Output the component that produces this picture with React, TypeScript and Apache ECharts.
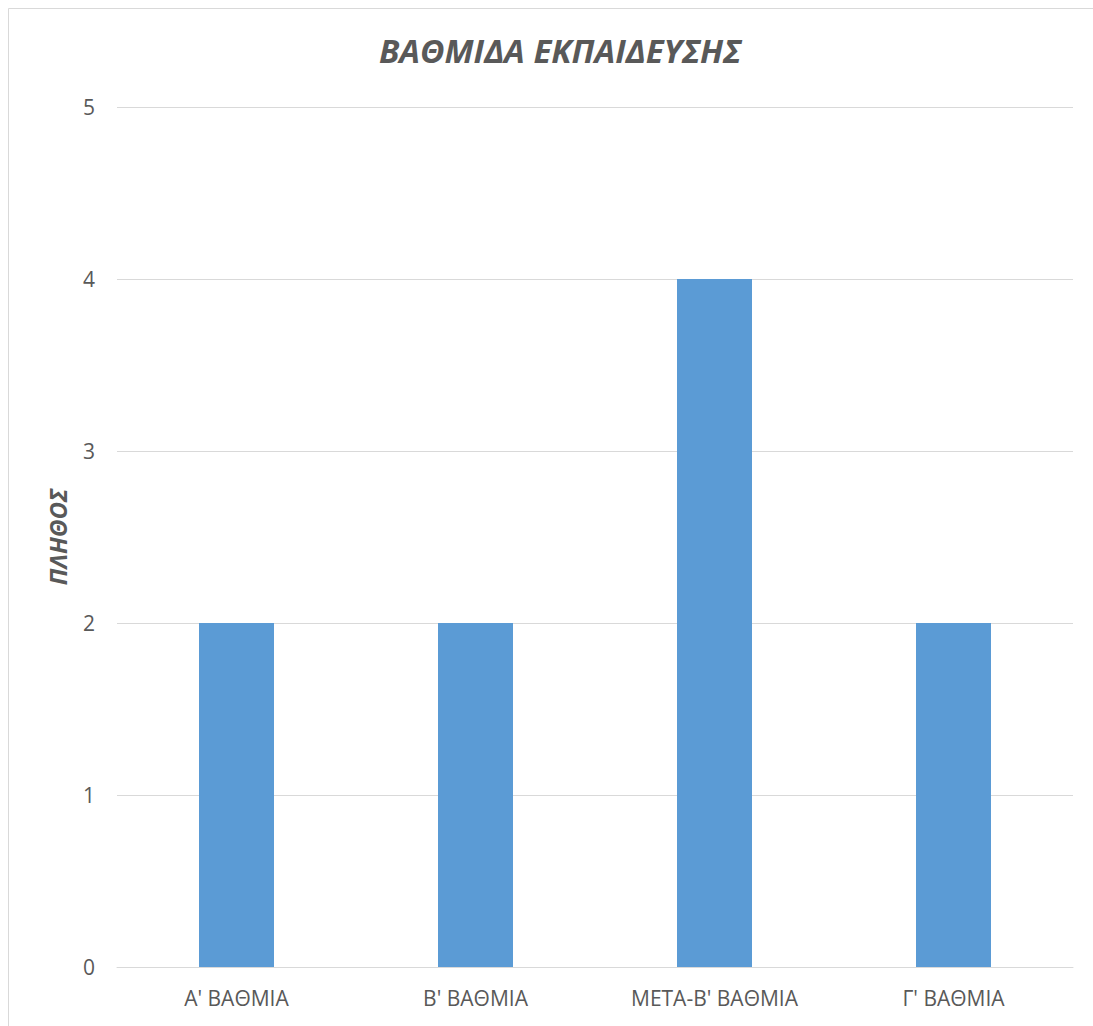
import React, { useEffect, useRef } from "react";
import * as echarts from "echarts";

const title = "ΒΑΘΜΙΔΑ ΕΚΠΑΙΔΕΥΣΗΣ";
const yAxisName = "ΠΛΗΘΟΣ";
const categories = ["Α' ΒΑΘΜΙΑ", "Β' ΒΑΘΜΙΑ", "ΜΕΤΑ-Β' ΒΑΘΜΙΑ", "Γ' ΒΑΘΜΙΑ"];
const values = [2, 2, 4, 2];

export default function App() {
  const ref = useRef<HTMLDivElement>(null);
  useEffect(() => {
    document.body.style.margin = "0";
    document.body.style.overflow = "hidden";
    if (!ref.current) return;
    const chart = echarts.init(ref.current, undefined, { renderer: "svg" });
    const font = "'Open Sans', 'DejaVu Sans', sans-serif";
    chart.setOption({
      animation: false,
      backgroundColor: "#ffffff",
      title: {
        text: title,
        left: 555,
        top: 29,
        textAlign: "center",
        textStyle: {
          fontFamily: font,
          fontSize: 33,
          fontWeight: "bold",
          fontStyle: "italic",
          color: "#595959",
        },
      },
      graphic: [
        {
          type: "line",
          shape: { x1: 8.5, y1: 8.5, x2: 1093, y2: 8.5 },
          style: { stroke: "#d9d9d9", lineWidth: 1 },
          silent: true,
        },
        {
          type: "line",
          shape: { x1: 8.5, y1: 8.5, x2: 8.5, y2: 1026 },
          style: { stroke: "#d9d9d9", lineWidth: 1 },
          silent: true,
        },
      ],
      grid: { left: 117, top: 107, width: 956, height: 860, containLabel: false },
      xAxis: {
        type: "category",
        data: categories,
        axisLine: { show: true, lineStyle: { color: "#d9d9d9", width: 1 } },
        axisTick: { show: false },
        axisLabel: {
          color: "#595959",
          fontFamily: font,
          fontSize: 21,
          margin: 20,
        },
      },
      yAxis: {
        type: "value",
        min: 0,
        max: 5,
        interval: 1,
        name: yAxisName,
        nameLocation: "middle",
        nameGap: 48,
        nameTextStyle: {
          fontFamily: font,
          fontSize: 24,
          fontWeight: "bold",
          fontStyle: "italic",
          color: "#595959",
        },
        axisLine: { show: false },
        axisTick: { show: false },
        splitLine: { lineStyle: { color: "#d9d9d9", width: 1 } },
        axisLabel: {
          color: "#595959",
          fontFamily: font,
          fontSize: 21,
          margin: 22,
        },
      },
      series: [
        {
          type: "bar",
          data: values,
          barWidth: 75,
          itemStyle: { color: "#5B9BD5" },
        },
      ],
    });
    return () => chart.dispose();
  }, []);
  return <div ref={ref} style={{ width: 1093, height: 1026 }} />;
}
